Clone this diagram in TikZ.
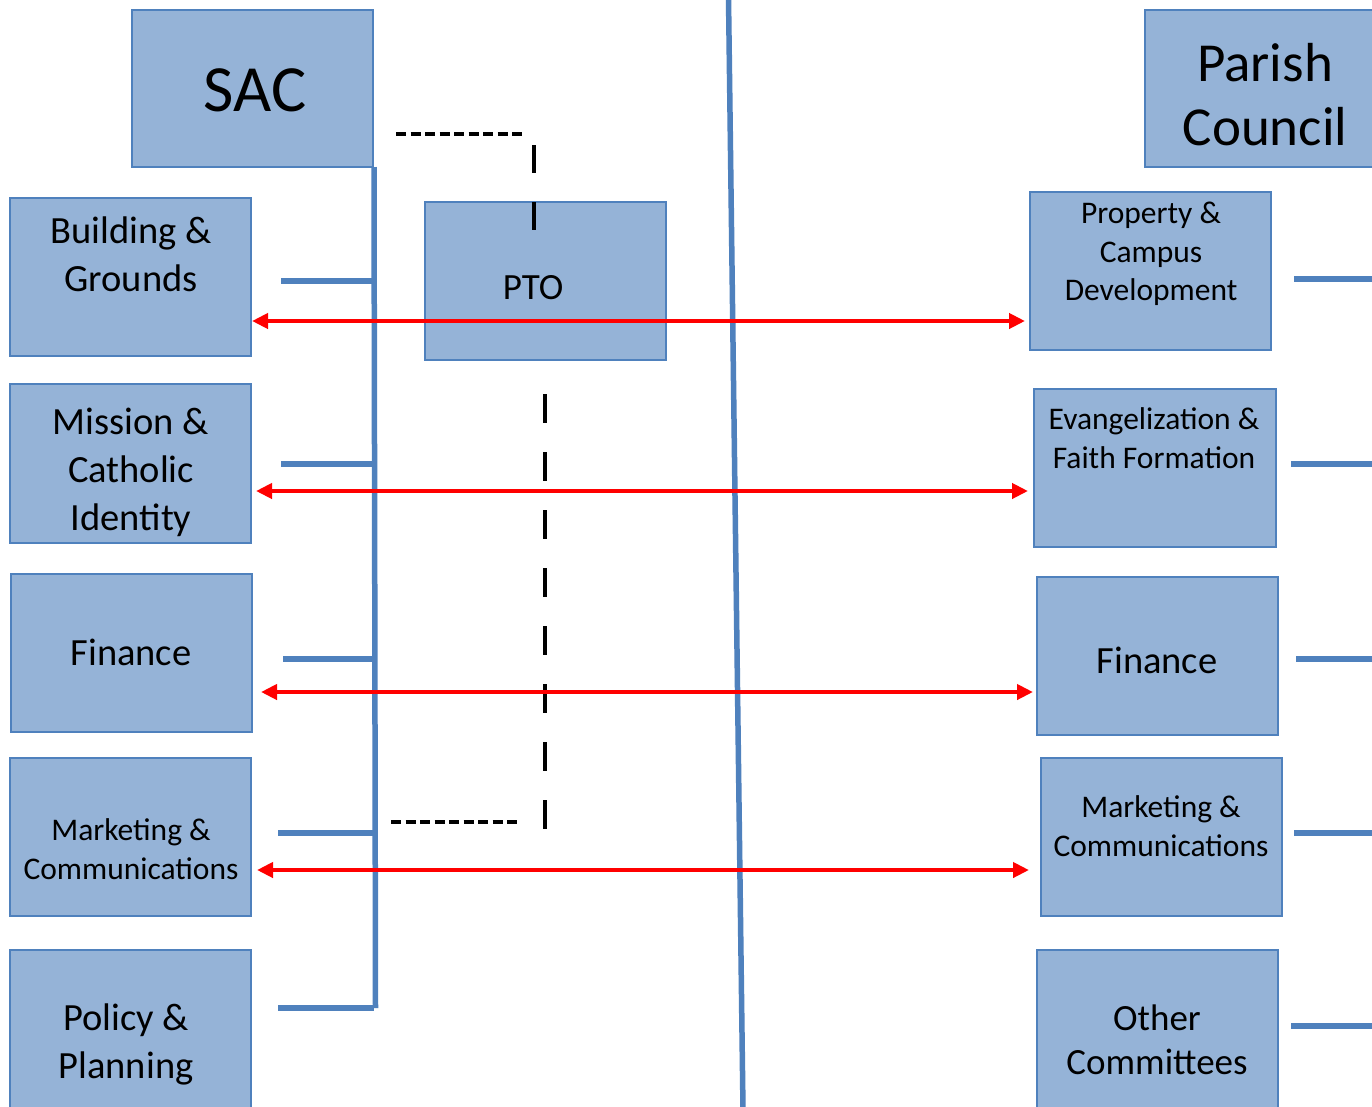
\documentclass[tikz,border=0pt]{standalone}
\usepackage{fontspec}
\setmainfont{Carlito}
\usetikzlibrary{arrows.meta}
\definecolor{boxfill}{HTML}{95B3D7}
\definecolor{boxline}{HTML}{4F81BD}
\definecolor{arrred}{HTML}{FF0000}
\tikzset{
  orgbox/.style={draw=boxline, fill=boxfill, line width=2pt, rectangle, inner sep=0pt},
  lbl/.style={align=center, inner sep=0pt, text=black},
  fbig/.style={font=\fontsize{38.5}{48}\selectfont},
  fsmall/.style={font=\fontsize{31.5}{38.5}\selectfont},
  spine/.style={draw=boxline, line width=5.5pt},
  stub/.style={draw=boxline, line width=6pt},
  dashlink/.style={draw=black, line width=3.2pt, dash pattern=on 10pt off 4.5pt},
  vdash/.style={draw=black, line width=4.5pt, dash pattern=on 29pt off 29pt},
  vdashtop/.style={draw=black, line width=4.5pt, dash pattern=on 28pt off 29pt},
  redarrow/.style={draw=arrred, line width=4.8pt, {Triangle[length=16pt,width=15pt]}-{Triangle[length=16pt,width=15pt]}}
}
\begin{document}
\begin{tikzpicture}[x=1pt,y=-1pt]
\useasboundingbox (0,0) rectangle (1372,1106);
\clip (0,0) rectangle (1372,1106);
\fill[white] (0,0) rectangle (1372,1106);

% boxes
\node[orgbox, minimum width=241pt, minimum height=157pt] (sac) at (252.5,88.5) {};
\node[orgbox, minimum width=241pt, minimum height=157pt] (pc) at (1265.5,88.5) {};
\node[orgbox, minimum width=241pt, minimum height=158pt] (l1) at (130.5,277) {};
\node[orgbox, minimum width=241pt, minimum height=159pt] (l2) at (130.5,463.5) {};
\node[orgbox, minimum width=241pt, minimum height=158pt] (l3) at (131.5,653) {};
\node[orgbox, minimum width=241pt, minimum height=158pt] (l4) at (130.5,837) {};
\node[orgbox, minimum width=241pt, minimum height=170pt] (l5) at (130.5,1035) {};
\node[orgbox, minimum width=241pt, minimum height=158pt] (pto) at (545.5,281) {};
\node[orgbox, minimum width=241pt, minimum height=158pt] (r1) at (1150.5,271) {};
\node[orgbox, minimum width=242pt, minimum height=158pt] (r2) at (1155,468) {};
\node[orgbox, minimum width=241pt, minimum height=158pt] (r3) at (1157.5,656) {};
\node[orgbox, minimum width=241pt, minimum height=158pt] (r4) at (1161.5,837) {};
\node[orgbox, minimum width=241pt, minimum height=170pt] (r5) at (1157.5,1035) {};

% texts
\node[lbl, font=\fontsize{66}{70}\selectfont] (sact) at (255,90) {SAC};
\node[lbl, font=\fontsize{55}{64}\selectfont] (pct) at (1265,95) {Parish\\Council};
\node[lbl, fbig] (l1t) at (131,254) {Building \&\\Grounds};
\node[lbl, fbig] (l2t) at (131,472) {Mission \&\\Catholic\\Identity};
\node[lbl, fbig] (l3t) at (131,652) {Finance};
\node[lbl, fsmall] (l4t) at (131,849) {Marketing \&\\Communications};
\node[lbl, fbig] (l5t) at (126,1044) {Policy \&\\Planning};
\node[lbl, font=\fontsize{37}{44}\selectfont] (ptot) at (533,288) {PTO};
\node[lbl, fsmall] (r1t) at (1151,254) {Property \&\\Campus\\Development};
\node[lbl, fsmall] (r2t) at (1154,438) {Evangelization \&\\Faith Formation};
\node[lbl, fbig] (r3t) at (1157,660) {Finance};
\node[lbl, fsmall] (r4t) at (1161,826) {Marketing \&\\Communications};
\node[lbl, font=\fontsize{37}{44}\selectfont] (r5t) at (1157,1040) {Other\\Committees};

% spines
\coordinate (sptop) at (374,167);
\coordinate (spbot) at (375.5,1008);
\coordinate (midtop) at (728.5,-2);
\coordinate (midbot) at (743,1110);
\draw[spine] (sptop) -- (spbot);
\draw[spine] (midtop) -- (midbot);

% left stubs
\coordinate (s1) at (281,281);
\coordinate (s2) at (281,464);
\coordinate (s3) at (283,659);
\coordinate (s4) at (278,833);
\coordinate (s5) at (278,1008);
\foreach \s in {s1,s2,s3,s4,s5} \draw[stub] (\s) -- (\s -| sptop);

% right stubs
\coordinate (t1) at (1294,279);
\coordinate (t2) at (1291,464);
\coordinate (t3) at (1296,659);
\coordinate (t4) at (1294,833);
\coordinate (t5) at (1291,1026);
\foreach \t in {t1,t2,t3,t4,t5} \draw[stub] (\t) -- ++(90,0);

% PTO dashed links
\coordinate (d1a) at (396,134);
\coordinate (d1b) at (525,134);
\coordinate (d2a) at (534,145);
\draw[dashlink] (d1a) -- (d1b);
\draw[vdashtop] (d2a) -- (pto.north -| d2a);
\draw[vdashtop] (534,202) -- (534,230);
\coordinate (d3a) at (545,394);
\coordinate (d3b) at (545,829);
\draw[vdash] (d3a) -- (d3b);
\coordinate (d4a) at (391,822);
\coordinate (d4b) at (520,822);
\draw[dashlink] (d4a) -- (d4b);

% red arrows
\draw[redarrow] (l1.east |- 0,321) -- ([xshift=-4pt]r1.west |- 0,321);
\draw[redarrow] ([xshift=4pt]l2.east |- 0,491) -- ([xshift=-5pt]r2.west |- 0,491);
\draw[redarrow] ([xshift=8pt]l3.east |- 0,692) -- ([xshift=-3pt]r3.west |- 0,692);
\draw[redarrow] ([xshift=5pt]l4.east |- 0,870) -- ([xshift=-11pt]r4.west |- 0,870);
\end{tikzpicture}
\end{document}
